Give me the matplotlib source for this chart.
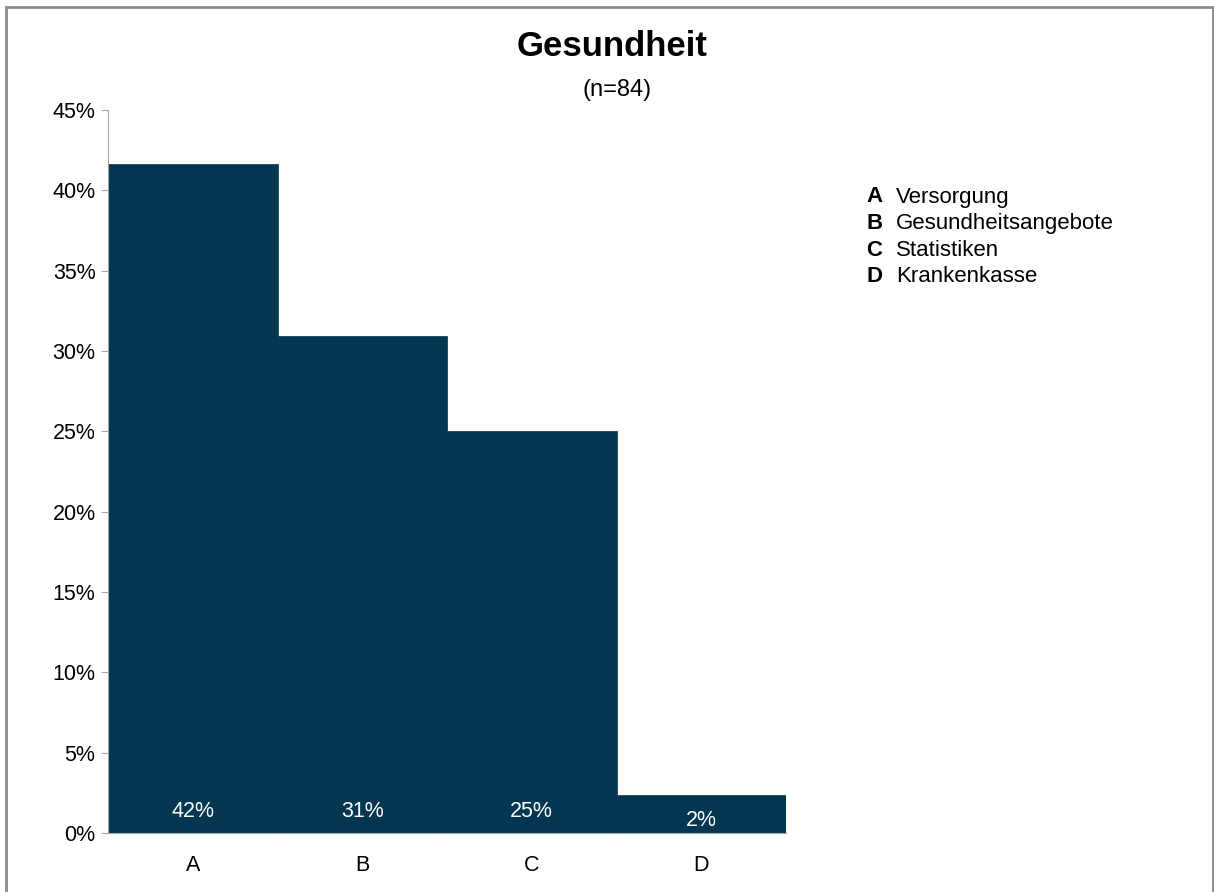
import matplotlib
matplotlib.use('Agg')
import matplotlib.pyplot as plt
from matplotlib.patches import Rectangle
import numpy as np

plt.rcParams['font.family'] = ['Liberation Sans', 'DejaVu Sans']

# Umfrage Gesundheit, Anzahl Nennungen je Kategorie
n_total = 84
categories = ['A', 'B', 'C', 'D']
counts = [35, 26, 21, 2]
legend_names = ['Versorgung', 'Gesundheitsangebote', 'Statistiken', 'Krankenkasse']
yticks = [0, 5, 10, 15, 20, 25, 30, 35, 40, 45]

share = np.array(counts) / n_total * 100

bar_color = '#023651'
axis_gray = '#a6a6a6'

fig = plt.figure(figsize=(12.14, 8.92), dpi=100)
ax = fig.add_axes([0.089, 0.0661, 0.5585, 0.8106])

x = np.arange(len(categories))
ax.bar(x, share, width=1.0, color=bar_color, edgecolor=bar_color, linewidth=0.5)

for xi, v in zip(x, share):
    ax.text(xi, min(1.31, v * 0.34), f'{v:.0f}%', ha='center', va='center',
            color='white', fontsize=15.5)

ax.set_xlim(-0.5, 3.5)
ax.set_ylim(0, 45)
ax.set_yticks(yticks)
ax.set_yticklabels([f'{t}%' for t in yticks])
ax.set_xticks(x)
ax.set_xticklabels(categories)

for side in ['top', 'right']:
    ax.spines[side].set_visible(False)
ax.spines['left'].set_color(axis_gray)
ax.spines['bottom'].set_color(axis_gray)
ax.tick_params(axis='y', length=5, color=axis_gray, labelsize=15.5, pad=4)
ax.tick_params(axis='x', length=0, labelsize=15.5, pad=16)

fig.text(612 / 1214, 1 - 47 / 892, 'Gesundheit', ha='center', va='center',
         fontsize=25, fontweight='bold')
fig.text(617 / 1214, 1 - 90 / 892, '(n=84)', ha='center', va='center', fontsize=17)

# Legende rechts: Buchstabe fett, Bezeichnung normal
y0 = 1 - 197 / 892
for i, (c, name) in enumerate(zip(categories, legend_names)):
    yy = y0 - i * 26.5 / 892
    fig.text(866 / 1214, yy, c, ha='left', va='center', fontsize=16, fontweight='bold')
    fig.text(896 / 1214, yy, name, ha='left', va='center', fontsize=16)

# grauer Rahmen um die Grafik
fig.patches.append(Rectangle((6 / 1214, -0.05), 1207 / 1214, 1.05 - 7 / 892,
                             transform=fig.transFigure, fill=False,
                             edgecolor='#8c8c8c', linewidth=2))

fig.savefig('out.png', dpi=100)
